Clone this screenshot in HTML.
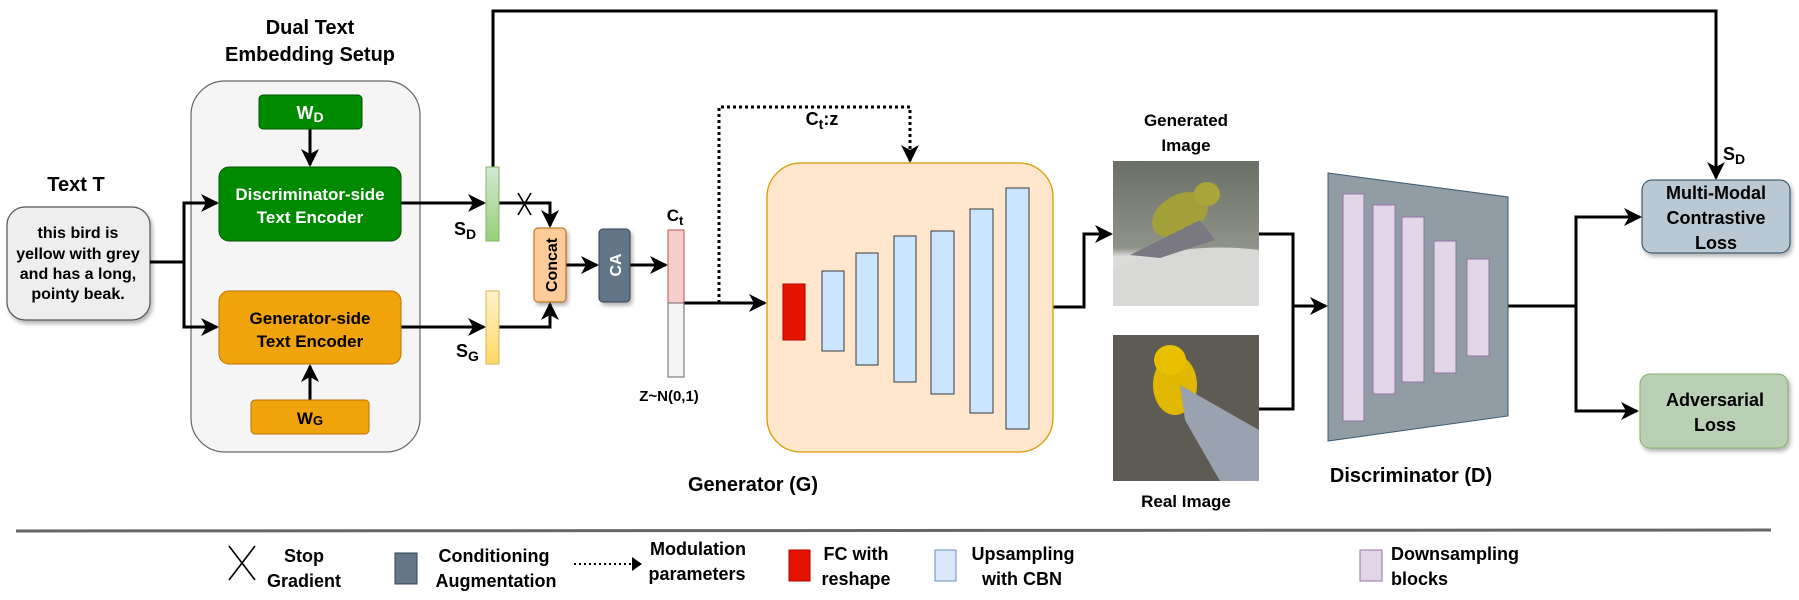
<!DOCTYPE html>
<html><head><meta charset="utf-8"><style>
html,body{margin:0;padding:0;background:#fff;}
svg{display:block;}
text{font-family:"Liberation Sans",Arial,sans-serif;font-weight:bold;}
</style></head><body>
<svg width="1799" height="600" viewBox="0 0 1799 600" xmlns="http://www.w3.org/2000/svg">
<defs>
<marker id="b" markerWidth="18" markerHeight="18" refX="16" refY="9" orient="auto" markerUnits="userSpaceOnUse"><path d="M0,0 L18,9 L0,18 L5,9 Z" fill="#000"/></marker>
<linearGradient id="gsd" x1="0" y1="0" x2="0" y2="1"><stop offset="0" stop-color="#d5e8d4"/><stop offset="1" stop-color="#97d077"/></linearGradient>
<linearGradient id="gsg" x1="0" y1="0" x2="0" y2="1"><stop offset="0" stop-color="#fff2cc"/><stop offset="1" stop-color="#ffd966"/></linearGradient>
<linearGradient id="gimg" x1="0" y1="0" x2="0" y2="1"><stop offset="0" stop-color="#6b7066"/><stop offset="0.6" stop-color="#8f938a"/><stop offset="0.66" stop-color="#dcdcda"/><stop offset="1" stop-color="#cfcfcd"/></linearGradient>
<filter id="sh" x="-10%" y="-10%" width="130%" height="130%"><feDropShadow dx="2" dy="3" stdDeviation="2" flood-opacity="0.3"/></filter>
</defs>

<text x="310" y="34" font-size="20" text-anchor="middle">Dual Text</text>
<text x="310" y="61" font-size="20" text-anchor="middle">Embedding Setup</text>
<rect x="191" y="81" width="229" height="371" rx="34" fill="#f5f5f5" stroke="#666" stroke-width="1.2"/>

<text x="76" y="191" font-size="20" text-anchor="middle">Text T</text>
<rect x="7" y="207" width="143" height="113" rx="18" fill="#eeeeee" stroke="#555" stroke-width="1.2" filter="url(#sh)"/>
<g font-size="16" text-anchor="middle"><text x="78" y="238">this bird is</text><text x="78" y="259">yellow with grey</text><text x="78" y="279">and has a long,</text><text x="78" y="299">pointy beak.</text></g>

<g stroke="#000" stroke-width="3" fill="none">
<path d="M150,262 H184 V203 H217" marker-end="url(#b)"/>
<path d="M184,262 V327 H217" marker-end="url(#b)"/>
<path d="M310,129 V165" marker-end="url(#b)"/>
<path d="M310,400 V366" marker-end="url(#b)"/>
<path d="M401,203 H484" marker-end="url(#b)"/>
<path d="M401,327 H484" marker-end="url(#b)"/>
<path d="M499,203 H550 V226" marker-end="url(#b)"/>
<path d="M499,327 H550 V304" marker-end="url(#b)"/>
<path d="M566,265 H597" marker-end="url(#b)"/>
<path d="M630,265 H666" marker-end="url(#b)"/>
<path d="M493,167 V11 H1716 V178" marker-end="url(#b)"/>
<path d="M684,303 H765" marker-end="url(#b)"/>
<path d="M1053,307 H1084 V234 H1111" marker-end="url(#b)"/>
<path d="M1259,234 H1293 V409 H1259"/>
<path d="M1293,306 H1326" marker-end="url(#b)"/>
<path d="M1508,306 H1576 V217 H1640" marker-end="url(#b)"/>
<path d="M1576,306 V411 H1637" marker-end="url(#b)"/>
</g>
<g stroke="#000" stroke-width="1.6"><line x1="518" y1="193" x2="531" y2="215"/><line x1="531" y1="193" x2="518" y2="215"/></g>
<path d="M719,303 V107 H910 V161" stroke="#000" stroke-width="3" stroke-dasharray="3,3" fill="none" marker-end="url(#b)"/>
<text x="822" y="125" font-size="18" text-anchor="middle">C<tspan font-size="14" dy="4">t</tspan><tspan dy="-4">:z</tspan></text>

<rect x="259" y="95" width="103" height="34" rx="4" fill="#008a00" stroke="#005700"/>
<text x="310" y="119" font-size="18" fill="#fff" text-anchor="middle">W<tspan font-size="14" dy="3">D</tspan></text>
<rect x="219" y="167" width="182" height="74" rx="10" fill="#008a00" stroke="#005700"/>
<text x="310" y="200" font-size="17" fill="#fff" text-anchor="middle">Discriminator-side</text>
<text x="310" y="223" font-size="17" fill="#fff" text-anchor="middle">Text Encoder</text>
<rect x="219" y="291" width="182" height="73" rx="10" fill="#f0a30a" stroke="#bd7000"/>
<text x="310" y="324" font-size="17" text-anchor="middle">Generator-side</text>
<text x="310" y="347" font-size="17" text-anchor="middle">Text Encoder</text>
<rect x="251" y="400" width="118" height="34" rx="4" fill="#f0a30a" stroke="#bd7000"/>
<text x="310" y="424" font-size="17" text-anchor="middle">W<tspan font-size="13" dy="1">G</tspan></text>

<rect x="486" y="167" width="13" height="74" fill="url(#gsd)" stroke="#82b366"/>
<rect x="486" y="291" width="13" height="73" fill="url(#gsg)" stroke="#d6b656"/>
<text x="454" y="235" font-size="18">S<tspan font-size="14" dy="4">D</tspan></text>
<text x="456" y="357" font-size="18">S<tspan font-size="14" dy="4">G</tspan></text>

<rect x="534" y="228" width="32" height="74" rx="4" fill="#ffcc99" stroke="#b46504" filter="url(#sh)"/>
<text transform="translate(557,265) rotate(-90)" font-size="16" text-anchor="middle">Concat</text>
<rect x="599" y="229" width="31" height="73" rx="4" fill="#647687" stroke="#314354" filter="url(#sh)"/>
<text transform="translate(621,265) rotate(-90)" font-size="16" fill="#fff" text-anchor="middle">CA</text>

<rect x="668" y="230" width="16" height="73" fill="#f8cecc" stroke="#b85450"/>
<rect x="668" y="303" width="16" height="74" fill="#f5f5f5" stroke="#666"/>
<text x="675" y="221" font-size="17" text-anchor="middle">C<tspan font-size="13" dy="4">t</tspan></text>
<text x="669" y="401" font-size="15" text-anchor="middle">Z~N(0,1)</text>

<rect x="767" y="163" width="286" height="289" rx="34" fill="#ffe6cc" stroke="#d79b00" stroke-width="1.3"/>
<rect x="783" y="284" width="22" height="56" fill="#e51400" stroke="#b20000"/>
<g fill="#cce5ff" stroke="#36393d" stroke-width="1">
<rect x="822" y="271" width="22" height="80"/>
<rect x="856" y="253" width="22" height="112"/>
<rect x="894" y="236" width="22" height="146"/>
<rect x="931" y="231" width="23" height="163"/>
<rect x="970" y="209" width="23" height="204"/>
<rect x="1006" y="188" width="23" height="241"/>
</g>
<text x="753" y="491" font-size="20" text-anchor="middle">Generator (G)</text>

<text x="1186" y="126" font-size="17" text-anchor="middle">Generated</text>
<text x="1186" y="151" font-size="17" text-anchor="middle">Image</text>
<rect x="1113" y="161" width="146" height="145" fill="url(#gimg)"/>
<path d="M1113,270 Q1180,240 1259,250 V306 H1113 Z" fill="#d8d8d6"/>
<ellipse cx="1180" cy="215" rx="30" ry="20" fill="#a3a03a" transform="rotate(-30 1180 215)"/>
<ellipse cx="1207" cy="194" rx="13" ry="12" fill="#a9a53a"/>
<path d="M1130,255 L1200,220 L1215,240 L1160,258 Z" fill="#7a7880"/>
<rect x="1113" y="335" width="146" height="146" fill="#5e5b54"/>
<ellipse cx="1175" cy="385" rx="22" ry="30" fill="#e1b800"/>
<ellipse cx="1170" cy="360" rx="16" ry="15" fill="#e8c000"/>
<path d="M1180,385 L1259,430 L1259,481 L1220,481 L1185,420 Z" fill="#9aa2b0"/>
<text x="1186" y="507" font-size="17" text-anchor="middle">Real Image</text>

<polygon points="1328,173 1508,197 1508,416 1328,441" fill="#919da5" stroke="#3a5a70"/>
<g fill="#e1d5e7" stroke="#9673a6">
<rect x="1343" y="194" width="21" height="227"/>
<rect x="1373" y="205" width="22" height="189"/>
<rect x="1402" y="217" width="22" height="165"/>
<rect x="1434" y="241" width="22" height="132"/>
<rect x="1467" y="259" width="22" height="97"/>
</g>
<text x="1411" y="482" font-size="20" text-anchor="middle">Discriminator (D)</text>

<text x="1723" y="160" font-size="18">S<tspan font-size="14" dy="4">D</tspan></text>
<rect x="1642" y="180" width="148" height="73" rx="10" fill="#bac8d3" stroke="#23445d" filter="url(#sh)"/>
<g font-size="18" text-anchor="middle"><text x="1716" y="199">Multi-Modal</text><text x="1716" y="224">Contrastive</text><text x="1716" y="249">Loss</text></g>
<rect x="1640" y="374" width="148" height="74" rx="10" fill="#b9d0b4" stroke="#82b366" filter="url(#sh)"/>
<g font-size="18" text-anchor="middle"><text x="1715" y="406">Adversarial</text><text x="1715" y="431">Loss</text></g>

<line x1="16" y1="531" x2="1771" y2="530" stroke="#666" stroke-width="3"/>

<g stroke="#000" stroke-width="1.6"><line x1="229" y1="546" x2="255" y2="580"/><line x1="255" y1="546" x2="229" y2="580"/></g>
<g font-size="18" text-anchor="middle">
<text x="304" y="562">Stop</text><text x="304" y="587">Gradient</text>
<text x="494" y="562">Conditioning</text><text x="496" y="587">Augmentation</text>
<text x="698" y="555">Modulation</text><text x="697" y="580">parameters</text>
<text x="856" y="560">FC with</text><text x="856" y="585">reshape</text>
<text x="1023" y="560">Upsampling</text><text x="1022" y="585">with CBN</text>
</g>
<g font-size="18"><text x="1391" y="560">Downsampling</text><text x="1391" y="585">blocks</text></g>
<rect x="395" y="553" width="22" height="31" fill="#647687" stroke="#314354"/>
<line x1="574" y1="564" x2="634" y2="564" stroke="#000" stroke-width="2" stroke-dasharray="2,3"/>
<path d="M632,557 L642,564 L632,571 Z" fill="#000"/>
<rect x="789" y="550" width="21" height="31" fill="#e51400" stroke="#b20000"/>
<rect x="935" y="550" width="21" height="31" fill="#dae8fc" stroke="#6c8ebf"/>
<rect x="1360" y="550" width="22" height="31" fill="#e1d5e7" stroke="#9673a6"/>
</svg>
</body></html>
